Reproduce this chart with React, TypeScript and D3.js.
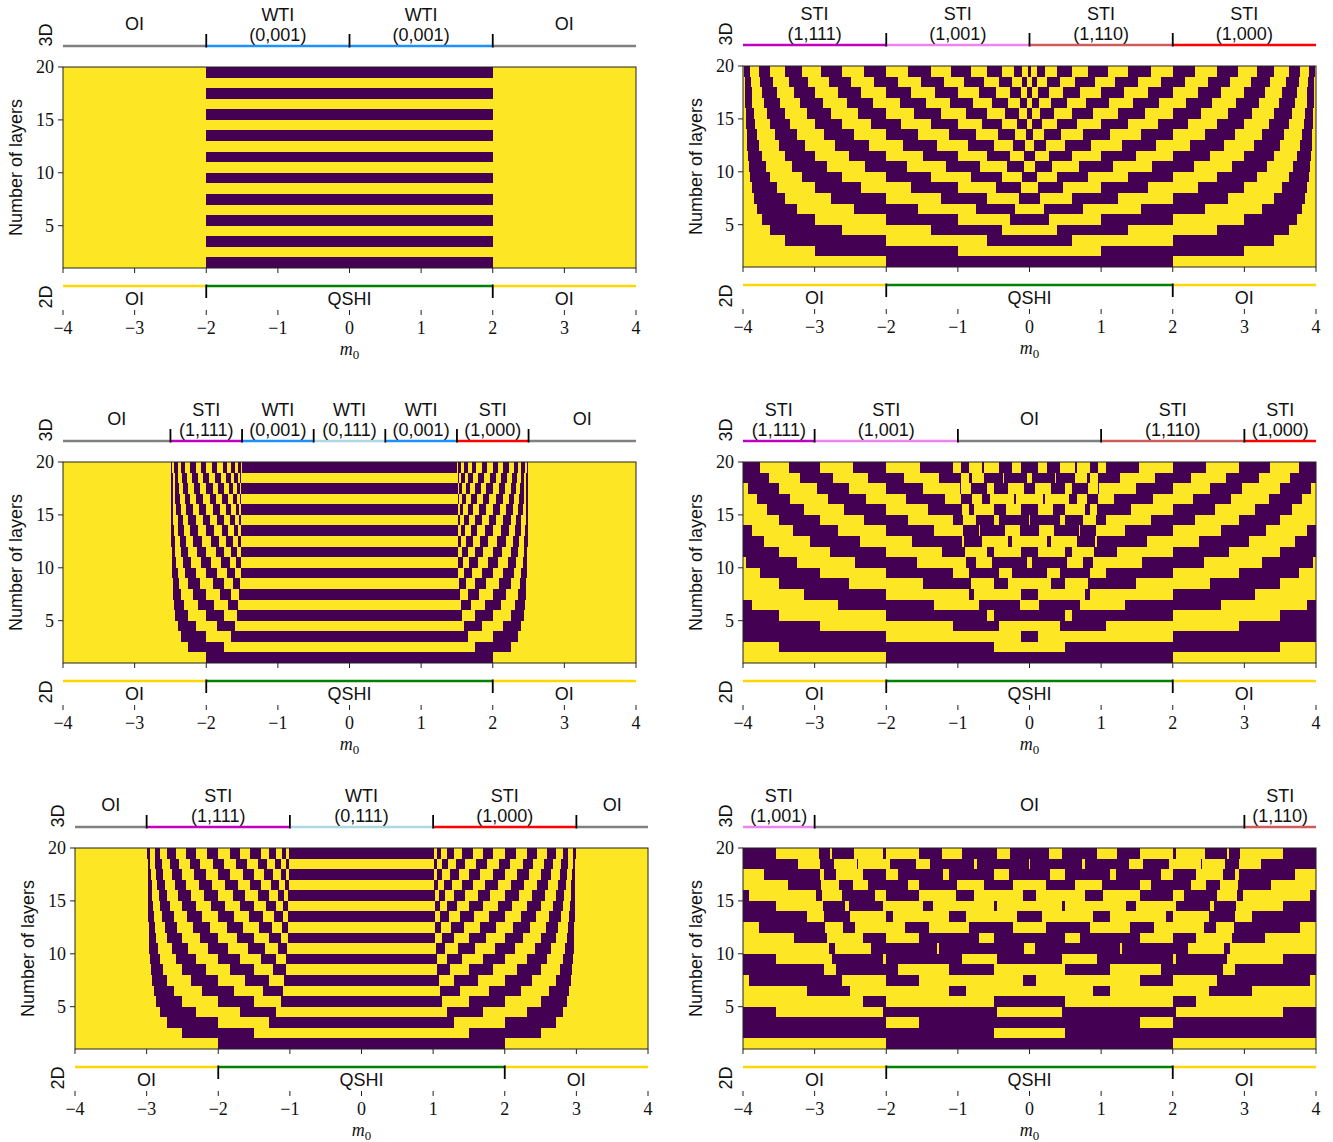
import React from 'react';
import * as d3 from 'd3';

const YEL = '#fde725';
const PUR = '#440154';
const SANS = "'Liberation Sans', Arial, sans-serif";
const SERIF = "'Liberation Serif', 'Times New Roman', serif";

// film thickness, bottom row first (row n covers n..n+1 on the axis)
const layers = [1, 2, 3, 4, 5, 6, 7, 8, 9, 10, 11, 12, 13, 14, 15, 16, 17, 18, 19];
const mTicks = [-4, -3, -2, -1, 0, 1, 2, 3, 4];
const layerTicks = [5, 10, 15, 20];

// each row: colour at m0 = -4 (1 = purple / nontrivial), then the m0 values where the colour flips
const p1Start = [0, 0, 0, 0, 0, 0, 0, 0, 0, 0, 0, 0, 0, 0, 0, 0, 0, 0, 0];
const p1Edges = [
  [-2, 2], [], [-2, 2], [], [-2, 2], [], [-2, 2], [], [-2, 2], [],
  [-2, 2], [], [-2, 2], [], [-2, 2], [], [-2, 2], [], [-2, 2],
];

const p2Start = [0, 0, 0, 0, 0, 0, 0, 0, 0, 0, 0, 0, 0, 0, 0, 0, 0, 0, 0];
const p2Edges = [
  [-2, 2],
  [-3, -1, 1, 3],
  [-3.41, -2, -0.59, 0.59, 2, 3.41],
  [-3.62, -2.62, -1.38, -0.38, 0.38, 1.38, 2.62, 3.62],
  [-3.73, -3, -2, -1, -0.27, 0.27, 1, 2, 3, 3.73],
  [-3.8, -3.25, -2.45, -1.55, -0.75, -0.2, 0.2, 0.75, 1.55, 2.45, 3.25, 3.8],
  [-3.85, -3.41, -2.77, -2, -1.23, -0.59, -0.15, 0.15, 0.59, 1.23, 2, 2.77, 3.41, 3.85],
  [-3.88, -3.53, -3, -2.35, -1.65, -1, -0.47, -0.12, 0.12, 0.47, 1, 1.65, 2.35, 3, 3.53, 3.88],
  [-3.9, -3.62, -3.18, -2.62, -2, -1.38, -0.82, -0.38, -0.1, 0.1, 0.38, 0.82, 1.38, 2, 2.62, 3.18, 3.62, 3.9],
  [-3.92, -3.68, -3.31, -2.83, -2.29, -1.71, -1.17, -0.69, -0.32, -0.08, 0.08, 0.32, 0.69, 1.17, 1.71, 2.29, 2.83, 3.31, 3.68, 3.92],
  [-3.93, -3.73, -3.41, -3, -2.52, -2, -1.48, -1, -0.59, -0.27, -0.07, 0.07, 0.27, 0.59, 1, 1.48, 2, 2.52, 3, 3.41, 3.73, 3.93],
  [-3.94, -3.77, -3.5, -3.14, -2.71, -2.24, -1.76, -1.29, -0.86, -0.5, -0.23, -0.06, 0.06, 0.23, 0.5, 0.86, 1.29, 1.76, 2.24, 2.71, 3.14, 3.5, 3.77, 3.94],
  [-3.95, -3.8, -3.56, -3.25, -2.87, -2.45, -2, -1.55, -1.13, -0.75, -0.44, -0.2, -0.05, 0.05, 0.2, 0.44, 0.75, 1.13, 1.55, 2, 2.45, 2.87, 3.25, 3.56, 3.8, 3.95],
  [-3.96, -3.83, -3.62, -3.34, -3, -2.62, -2.21, -1.79, -1.38, -1, -0.66, -0.38, -0.17, -0.04, 0.04, 0.17, 0.38, 0.66, 1, 1.38, 1.79, 2.21, 2.62, 3, 3.34, 3.62, 3.83, 3.96],
  [-3.96, -3.85, -3.66, -3.41, -3.11, -2.77, -2.39, -2, -1.61, -1.23, -0.89, -0.59, -0.34, -0.15, -0.04, 0.04, 0.15, 0.34, 0.59, 0.89, 1.23, 1.61, 2, 2.39, 2.77, 3.11, 3.41, 3.66, 3.85, 3.96],
  [-3.97, -3.87, -3.7, -3.48, -3.21, -2.89, -2.55, -2.19, -1.81, -1.45, -1.11, -0.79, -0.52, -0.3, -0.13, -0.03, 0.03, 0.13, 0.3, 0.52, 0.79, 1.11, 1.45, 1.81, 2.19, 2.55, 2.89, 3.21, 3.48, 3.7, 3.87, 3.97],
  [-3.97, -3.88, -3.73, -3.53, -3.29, -3, -2.68, -2.35, -2, -1.65, -1.32, -1, -0.71, -0.47, -0.27, -0.12, -0.03, 0.03, 0.12, 0.27, 0.47, 0.71, 1, 1.32, 1.65, 2, 2.35, 2.68, 3, 3.29, 3.53, 3.73, 3.88, 3.97],
  [-3.97, -3.89, -3.76, -3.58, -3.36, -3.09, -2.8, -2.49, -2.17, -1.83, -1.51, -1.2, -0.91, -0.64, -0.42, -0.24, -0.11, -0.03, 0.03, 0.11, 0.24, 0.42, 0.64, 0.91, 1.2, 1.51, 1.83, 2.17, 2.49, 2.8, 3.09, 3.36, 3.58, 3.76, 3.89, 3.97],
  [-3.98, -3.9, -3.78, -3.62, -3.41, -3.18, -2.91, -2.62, -2.31, -2, -1.69, -1.38, -1.09, -0.82, -0.59, -0.38, -0.22, -0.1, -0.02, 0.02, 0.1, 0.22, 0.38, 0.59, 0.82, 1.09, 1.38, 1.69, 2, 2.31, 2.62, 2.91, 3.18, 3.41, 3.62, 3.78, 3.9, 3.98],
];

const p3Start = [0, 0, 0, 0, 0, 0, 0, 0, 0, 0, 0, 0, 0, 0, 0, 0, 0, 0, 0];
const p3Edges = [
  [-2, 2],
  [-2.25, -1.75, 1.75, 2.25],
  [-2.35, -2, -1.65, 1.65, 2, 2.35],
  [-2.4, -2.15, -1.85, -1.6, 1.6, 1.85, 2.15, 2.4],
  [-2.43, -2.25, -2, -1.75, -1.57, 1.57, 1.75, 2, 2.25, 2.43],
  [-2.45, -2.31, -2.11, -1.89, -1.69, -1.55, 1.55, 1.69, 1.89, 2.11, 2.31, 2.45],
  [-2.46, -2.35, -2.19, -2, -1.81, -1.65, -1.54, 1.54, 1.65, 1.81, 2, 2.19, 2.35, 2.46],
  [-2.47, -2.38, -2.25, -2.09, -1.91, -1.75, -1.62, -1.53, 1.53, 1.62, 1.75, 1.91, 2.09, 2.25, 2.38, 2.47],
  [-2.48, -2.4, -2.29, -2.15, -2, -1.85, -1.71, -1.6, -1.52, 1.52, 1.6, 1.71, 1.85, 2, 2.15, 2.29, 2.4, 2.48],
  [-2.48, -2.42, -2.33, -2.21, -2.07, -1.93, -1.79, -1.67, -1.58, -1.52, 1.52, 1.58, 1.67, 1.79, 1.93, 2.07, 2.21, 2.33, 2.42, 2.48],
  [-2.48, -2.43, -2.35, -2.25, -2.13, -2, -1.87, -1.75, -1.65, -1.57, -1.52, 1.52, 1.57, 1.65, 1.75, 1.87, 2, 2.13, 2.25, 2.35, 2.43, 2.48],
  [-2.49, -2.44, -2.37, -2.28, -2.18, -2.06, -1.94, -1.82, -1.72, -1.63, -1.56, -1.51, 1.51, 1.56, 1.63, 1.72, 1.82, 1.94, 2.06, 2.18, 2.28, 2.37, 2.44, 2.49],
  [-2.49, -2.45, -2.39, -2.31, -2.22, -2.11, -2, -1.89, -1.78, -1.69, -1.61, -1.55, -1.51, 1.51, 1.55, 1.61, 1.69, 1.78, 1.89, 2, 2.11, 2.22, 2.31, 2.39, 2.45, 2.49],
  [-2.49, -2.46, -2.4, -2.33, -2.25, -2.15, -2.05, -1.95, -1.85, -1.75, -1.67, -1.6, -1.54, -1.51, 1.51, 1.54, 1.6, 1.67, 1.75, 1.85, 1.95, 2.05, 2.15, 2.25, 2.33, 2.4, 2.46, 2.49],
  [-2.49, -2.46, -2.42, -2.35, -2.28, -2.19, -2.1, -2, -1.9, -1.81, -1.72, -1.65, -1.58, -1.54, -1.51, 1.51, 1.54, 1.58, 1.65, 1.72, 1.81, 1.9, 2, 2.1, 2.19, 2.28, 2.35, 2.42, 2.46, 2.49],
  [-2.49, -2.47, -2.43, -2.37, -2.3, -2.22, -2.14, -2.05, -1.95, -1.86, -1.78, -1.7, -1.63, -1.57, -1.53, -1.51, 1.51, 1.53, 1.57, 1.63, 1.7, 1.78, 1.86, 1.95, 2.05, 2.14, 2.22, 2.3, 2.37, 2.43, 2.47, 2.49],
  [-2.49, -2.47, -2.43, -2.38, -2.32, -2.25, -2.17, -2.09, -2, -1.91, -1.83, -1.75, -1.68, -1.62, -1.57, -1.53, -1.51, 1.51, 1.53, 1.57, 1.62, 1.68, 1.75, 1.83, 1.91, 2, 2.09, 2.17, 2.25, 2.32, 2.38, 2.43, 2.47, 2.49],
  [-2.49, -2.47, -2.44, -2.39, -2.34, -2.27, -2.2, -2.12, -2.04, -1.96, -1.88, -1.8, -1.73, -1.66, -1.61, -1.56, -1.53, -1.51, 1.51, 1.53, 1.56, 1.61, 1.66, 1.73, 1.8, 1.88, 1.96, 2.04, 2.12, 2.2, 2.27, 2.34, 2.39, 2.44, 2.47, 2.49],
  [-2.494, -2.48, -2.45, -2.4, -2.35, -2.29, -2.23, -2.15, -2.08, -2, -1.92, -1.85, -1.77, -1.71, -1.65, -1.6, -1.55, -1.52, -1.506, 1.506, 1.52, 1.55, 1.6, 1.65, 1.71, 1.77, 1.85, 1.92, 2, 2.08, 2.15, 2.23, 2.29, 2.35, 2.4, 2.45, 2.48, 2.494],
];

const p4Start = [0, 0, 1, 1, 1, 1, 0, 0, 0, 0, 1, 1, 1, 0, 0, 0, 0, 1, 1];
const p4Edges = [
  [-2, 2],
  [-3.5, -0.5, 0.5, 3.5],
  [-2, -0.12, 0.12, 2],
  [-2.93, -1.07, -0.43, 0.43, 1.07, 2.93],
  [-3.5, -2, -0.6, -0.5, 0.5, 0.6, 2, 3.5],
  [-3.87, -2.67, -1.33, -0.7, -0.13, 0.13, 0.7, 1.33, 2.67, 3.87],
  [-3.15, -2, -0.85, -0.77, -0.12, 0.12, 0.77, 0.85, 2, 3.15],
  [-3.5, -2.52, -1.48, -0.82, -0.5, -0.3, 0.3, 0.5, 0.82, 1.48, 2.52, 3.5],
  [-3.76, -2.93, -2, -1.07, -0.85, -0.43, -0.24, 0.24, 0.43, 0.85, 1.07, 2, 2.93, 3.76],
  [-3.965, -3.25, -2.43, -1.57, -0.88, -0.75, -0.52, -0.035, 0.035, 0.52, 0.75, 0.88, 1.57, 2.43, 3.25, 3.965],
  [-3.5, -2.78, -2, -1.22, -0.9, -0.6, -0.5, -0.12, 0.12, 0.5, 0.6, 0.9, 1.22, 2, 2.78, 3.5],
  [-3.7, -3.06, -2.36, -1.64, -0.94, -0.91, -0.66, -0.3, -0.25, 0.25, 0.3, 0.66, 0.91, 0.94, 1.64, 2.36, 3.06, 3.7],
  [-3.87, -3.3, -2.67, -2, -1.33, -0.925, -0.703, -0.698, -0.345, -0.13, 0.13, 0.345, 0.698, 0.703, 0.925, 1.33, 2, 2.67, 3.3, 3.87],
  [-3.5, -2.93, -2.31, -1.69, -1.07, -0.93, -0.74, -0.5, -0.43, -0.007, 0.007, 0.43, 0.5, 0.74, 0.93, 1.07, 1.69, 2.31, 2.93, 3.5],
  [-3.67, -3.15, -2.585, -2, -1.415, -0.94, -0.85, -0.77, -0.49, -0.33, -0.12, 0.12, 0.33, 0.49, 0.77, 0.85, 0.94, 1.415, 2, 2.585, 3.15, 3.67],
  [-3.81, -3.34, -2.82, -2.28, -1.72, -1.18, -0.95, -0.8, -0.66, -0.55, -0.22, -0.19, 0.19, 0.22, 0.55, 0.66, 0.8, 0.95, 1.18, 1.72, 2.28, 2.82, 3.34, 3.81],
  [-3.93, -3.5, -2.97, -2.52, -2, -1.48, -0.974, -0.954, -0.82, -0.6, -0.5, -0.3, -0.07, 0.07, 0.3, 0.5, 0.6, 0.82, 0.954, 0.974, 1.48, 2, 2.52, 2.97, 3.5, 3.93],
  [-3.64, -3.205, -2.74, -2.25, -1.75, -1.26, -0.96, -0.84, -0.8, -0.64, -0.37, -0.36, -0.03, 0.03, 0.36, 0.37, 0.64, 0.8, 0.84, 0.96, 1.26, 1.75, 2.25, 2.74, 3.205, 3.64],
  [-3.76, -3.36, -2.93, -2.47, -2, -1.53, -1.07, -0.96, -0.85, -0.67, -0.64, -0.43, -0.24, -0.12, 0.12, 0.24, 0.43, 0.64, 0.67, 0.85, 0.96, 1.07, 1.53, 2, 2.47, 2.93, 3.36, 3.76],
];

const p5Start = [0, 0, 0, 0, 0, 0, 0, 0, 0, 0, 0, 0, 0, 0, 0, 0, 0, 0, 0];
const p5Edges = [
  [-2, 2],
  [-2.5, -1.5, 1.5, 2.5],
  [-2.71, -2, -1.29, 1.29, 2, 2.71],
  [-2.81, -2.31, -1.69, -1.19, 1.19, 1.69, 2.31, 2.81],
  [-2.87, -2.5, -2, -1.5, -1.13, 1.13, 1.5, 2, 2.5, 2.87],
  [-2.9, -2.62, -2.22, -1.78, -1.38, -1.1, 1.1, 1.38, 1.78, 2.22, 2.62, 2.9],
  [-2.92, -2.71, -2.38, -2, -1.62, -1.29, -1.08, 1.08, 1.29, 1.62, 2, 2.38, 2.71, 2.92],
  [-2.94, -2.77, -2.5, -2.17, -1.83, -1.5, -1.23, -1.06, 1.06, 1.23, 1.5, 1.83, 2.17, 2.5, 2.77, 2.94],
  [-2.95, -2.81, -2.59, -2.31, -2, -1.69, -1.41, -1.19, -1.05, 1.05, 1.19, 1.41, 1.69, 2, 2.31, 2.59, 2.81, 2.95],
  [-2.96, -2.84, -2.65, -2.42, -2.14, -1.86, -1.58, -1.35, -1.16, -1.04, 1.04, 1.16, 1.35, 1.58, 1.86, 2.14, 2.42, 2.65, 2.84, 2.96],
  [-2.97, -2.87, -2.71, -2.5, -2.26, -2, -1.74, -1.5, -1.29, -1.13, -1.03, 1.03, 1.13, 1.29, 1.5, 1.74, 2, 2.26, 2.5, 2.71, 2.87, 2.97],
  [-2.97, -2.89, -2.75, -2.57, -2.35, -2.12, -1.88, -1.65, -1.43, -1.25, -1.11, -1.03, 1.03, 1.11, 1.25, 1.43, 1.65, 1.88, 2.12, 2.35, 2.57, 2.75, 2.89, 2.97],
  [-2.975, -2.9, -2.78, -2.62, -2.43, -2.22, -2, -1.78, -1.57, -1.38, -1.22, -1.1, -1.025, 1.025, 1.1, 1.22, 1.38, 1.57, 1.78, 2, 2.22, 2.43, 2.62, 2.78, 2.9, 2.975],
  [-2.98, -2.91, -2.81, -2.67, -2.5, -2.31, -2.1, -1.9, -1.69, -1.5, -1.33, -1.19, -1.09, -1.02, 1.02, 1.09, 1.19, 1.33, 1.5, 1.69, 1.9, 2.1, 2.31, 2.5, 2.67, 2.81, 2.91, 2.98],
  [-2.98, -2.92, -2.83, -2.71, -2.56, -2.38, -2.2, -2, -1.8, -1.62, -1.44, -1.29, -1.17, -1.08, -1.02, 1.02, 1.08, 1.17, 1.29, 1.44, 1.62, 1.8, 2, 2.2, 2.38, 2.56, 2.71, 2.83, 2.92, 2.98],
  [-2.983, -2.93, -2.85, -2.74, -2.6, -2.45, -2.27, -2.09, -1.91, -1.73, -1.55, -1.4, -1.26, -1.15, -1.07, -1.017, 1.017, 1.07, 1.15, 1.26, 1.4, 1.55, 1.73, 1.91, 2.09, 2.27, 2.45, 2.6, 2.74, 2.85, 2.93, 2.983],
  [-2.985, -2.94, -2.87, -2.77, -2.64, -2.5, -2.34, -2.17, -2, -1.83, -1.66, -1.5, -1.36, -1.23, -1.13, -1.06, -1.015, 1.015, 1.06, 1.13, 1.23, 1.36, 1.5, 1.66, 1.83, 2, 2.17, 2.34, 2.5, 2.64, 2.77, 2.87, 2.94, 2.985],
  [-2.986, -2.95, -2.88, -2.79, -2.68, -2.55, -2.4, -2.25, -2.08, -1.92, -1.75, -1.6, -1.45, -1.32, -1.21, -1.12, -1.05, -1.014, 1.014, 1.05, 1.12, 1.21, 1.32, 1.45, 1.6, 1.75, 1.92, 2.08, 2.25, 2.4, 2.55, 2.68, 2.79, 2.88, 2.95, 2.986],
  [-2.988, -2.95, -2.89, -2.81, -2.71, -2.59, -2.45, -2.31, -2.16, -2, -1.84, -1.69, -1.55, -1.41, -1.29, -1.19, -1.11, -1.05, -1.012, 1.012, 1.05, 1.11, 1.19, 1.29, 1.41, 1.55, 1.69, 1.84, 2, 2.16, 2.31, 2.45, 2.59, 2.71, 2.81, 2.89, 2.95, 2.988],
];

const p6Start = [0, 1, 1, 1, 0, 0, 0, 1, 1, 0, 0, 0, 1, 1, 1, 0, 0, 1, 1];
const p6Edges = [
  [-2, 2],
  [-0.5, 0.5],
  [-2, -1.54, 1.54, 2],
  [-3.545, -2.045, -0.455, 0.455, 2.045, 3.545],
  [-2.33, -2, -0.5, 0.5, 2, 2.33],
  [-3.11, -2.505, -1.12, -0.89, 0.89, 1.12, 2.505, 3.11],
  [-3.91, -2.62, -2, -1.536, -0.087, 0.087, 1.536, 2, 2.62, 3.91],
  [-2.87, -2.7, -1.83, -1.13, -0.5, 0.5, 1.13, 1.83, 2.7, 2.87],
  [-3.545, -2.76, -2.045, -2, -0.94, -0.455, 0.455, 0.94, 2, 2.045, 2.76, 3.545],
  [-2.8, -2.71, -2.21, -1.29, -1.27, -0.077, 0.077, 1.27, 1.29, 2.21, 2.71, 2.8],
  [-3.29, -2.83, -2.33, -2, -1.54, -0.71, -0.5, 0.5, 0.71, 1.54, 2, 2.33, 2.83, 3.29],
  [-3.77, -2.85, -2.6, -2.43, -1.74, -1.4, -0.84, -0.23, 0.23, 0.84, 1.4, 1.74, 2.43, 2.6, 2.85, 3.77],
  [-3.11, -2.87, -2.505, -2, -1.91, -1.12, -0.89, -0.17, 0.17, 0.89, 1.12, 1.91, 2, 2.505, 2.87, 3.11],
  [-3.545, -2.89, -2.57, -2.52, -2.045, -1.48, -1.35, -0.5, -0.455, 0.455, 0.5, 1.35, 1.48, 2.045, 2.52, 2.57, 2.89, 3.545],
  [-3.91, -2.98, -2.9, -2.62, -2.16, -2, -1.54, -1.02, -0.78, -0.09, 0.09, 0.78, 1.02, 1.54, 2, 2.16, 2.62, 2.9, 2.98, 3.91],
  [-3.37, -2.915, -2.66, -2.46, -2.25, -1.695, -1.54, -1.01, -0.63, -0.23, 0.23, 0.63, 1.01, 1.54, 1.695, 2.25, 2.46, 2.66, 2.915, 3.37],
  [-3.71, -2.92, -2.87, -2.7, -2.33, -2, -1.83, -1.21, -1.13, -0.5, -0.29, 0.29, 0.5, 1.13, 1.21, 1.83, 2, 2.33, 2.7, 2.87, 2.92, 3.71],
  [-3.23, -2.93, -2.73, -2.413, -2.398, -1.95, -1.59, -1.39, -0.77, -0.73, -0.009, 0.009, 0.73, 0.77, 1.39, 1.59, 1.95, 2.398, 2.413, 2.73, 2.93, 3.23],
  [-3.545, -2.94, -2.78, -2.76, -2.455, -2.045, -2, -1.54, -1.22, -0.94, -0.455, -0.27, 0.27, 0.455, 0.94, 1.22, 1.54, 2, 2.045, 2.455, 2.76, 2.78, 2.94, 3.545],
];

// 3D bulk phases along m0 for each panel
const phases1 = [
  { from: -4, to: -2, phase: 'OI' },
  { from: -2, to: 0, phase: 'WTI (0,001)' },
  { from: 0, to: 2, phase: 'WTI (0,001)' },
  { from: 2, to: 4, phase: 'OI' },
];
const phases2 = [
  { from: -4, to: -2, phase: 'STI (1,111)' },
  { from: -2, to: 0, phase: 'STI (1,001)' },
  { from: 0, to: 2, phase: 'STI (1,110)' },
  { from: 2, to: 4, phase: 'STI (1,000)' },
];
const phases3 = [
  { from: -4, to: -2.5, phase: 'OI' },
  { from: -2.5, to: -1.5, phase: 'STI (1,111)' },
  { from: -1.5, to: -0.5, phase: 'WTI (0,001)' },
  { from: -0.5, to: 0.5, phase: 'WTI (0,111)' },
  { from: 0.5, to: 1.5, phase: 'WTI (0,001)' },
  { from: 1.5, to: 2.5, phase: 'STI (1,000)' },
  { from: 2.5, to: 4, phase: 'OI' },
];
const phases4 = [
  { from: -4, to: -3, phase: 'STI (1,111)' },
  { from: -3, to: -1, phase: 'STI (1,001)' },
  { from: -1, to: 1, phase: 'OI' },
  { from: 1, to: 3, phase: 'STI (1,110)' },
  { from: 3, to: 4, phase: 'STI (1,000)' },
];
const phases5 = [
  { from: -4, to: -3, phase: 'OI' },
  { from: -3, to: -1, phase: 'STI (1,111)' },
  { from: -1, to: 1, phase: 'WTI (0,111)' },
  { from: 1, to: 3, phase: 'STI (1,000)' },
  { from: 3, to: 4, phase: 'OI' },
];
const phases6 = [
  { from: -4, to: -3, phase: 'STI (1,001)' },
  { from: -3, to: 3, phase: 'OI' },
  { from: 3, to: 4, phase: 'STI (1,110)' },
];
// single-layer (2D) phases, same in every panel
const phases2D = [
  { from: -4, to: -2, phase: 'OI' },
  { from: -2, to: 2, phase: 'QSHI' },
  { from: 2, to: 4, phase: 'OI' },
];

const color3D: Record<string, string> = {
  'OI': '#808080',
  'WTI (0,001)': '#1e90ff',
  'WTI (0,111)': '#add8e6',
  'STI (1,111)': '#c000c0',
  'STI (1,001)': '#ee82ee',
  'STI (1,110)': '#cd5c5c',
  'STI (1,000)': '#ff0000',
};
const color2D: Record<string, string> = { 'OI': '#ffd700', 'QSHI': '#008000' };

const W = 573;
const H = 201;

type Phase = { from: number; to: number; phase: string };

function minus(v: number) {
  return v < 0 ? '\u2212' + Math.abs(v) : String(v);
}

function Panel({ left, top, start, edges, phases }: { left: number; top: number; start: number[]; edges: number[][]; phases: Phase[] }) {
  const x = d3.scaleLinear().domain([-4, 4]).range([left, left + W]);
  const y = d3.scaleLinear().domain([1, 20]).range([top + H, top]);
  const B = top + H;

  const cells: React.ReactNode[] = [];
  layers.forEach((n, i) => {
    const b = [-4, ...edges[i], 4];
    let s = start[i];
    for (let k = 0; k < b.length - 1; k++) {
      if (s === 1) {
        cells.push(
          <rect key={`${n}-${k}`} x={x(b[k])} y={y(n + 1)} width={Math.max(1, x(b[k + 1]) - x(b[k]))}
            height={y(n) - y(n + 1)} fill={PUR} />
        );
      }
      s = 1 - s;
    }
  });

  const lineY = top - 21;
  const line2D = B + 18;

  return (
    <g>
      {/* 3D header */}
      {phases.map((p, i) => (
        <line key={'l' + i} x1={x(p.from)} x2={x(p.to)} y1={lineY} y2={lineY} stroke={color3D[p.phase]} strokeWidth={2.5} />
      ))}
      {phases.slice(1).map((p, i) => (
        <line key={'t' + i} x1={x(p.from)} x2={x(p.from)} y1={lineY - 12} y2={lineY + 1.5} stroke="#000" strokeWidth={1.8} />
      ))}
      {phases.map((p, i) => {
        const parts = p.phase.split(' ');
        const cx = x((p.from + p.to) / 2);
        return parts.length > 1 ? (
          <g key={'n' + i} fontFamily={SANS} fontSize={18} textAnchor="middle" fill="#111">
            <text x={cx} y={top - 46}>{parts[0]}</text>
            <text x={cx} y={top - 26}>{parts[1]}</text>
          </g>
        ) : (
          <text key={'n' + i} x={cx} y={top - 37} fontFamily={SANS} fontSize={18} textAnchor="middle" fill="#111">{parts[0]}</text>
        );
      })}
      <text transform={`translate(${left - 17},${top - 32}) rotate(-90)`} fontFamily={SANS} fontSize={18}
        textAnchor="middle" dominantBaseline="central" fill="#111">3D</text>

      {/* heatmap */}
      <rect x={left} y={top} width={W} height={H} fill={YEL} />
      <g shapeRendering="crispEdges">{cells}</g>
      <rect x={left} y={top} width={W} height={H} fill="none" stroke="#222" strokeWidth={1} />
      {layerTicks.map((t) => (
        <g key={'y' + t}>
          <line x1={left - 5} x2={left} y1={y(t)} y2={y(t)} stroke="#222" strokeWidth={1} />
          <text x={left - 9} y={y(t)} dy="0.35em" textAnchor="end" fontFamily={SERIF} fontSize={18} fill="#111">{t}</text>
        </g>
      ))}
      {mTicks.map((t) => (
        <line key={'xb' + t} x1={x(t)} x2={x(t)} y1={B} y2={B + 5} stroke="#222" strokeWidth={1} />
      ))}
      <text transform={`translate(${left - 47},${top + H / 2}) rotate(-90)`} fontFamily={SANS} fontSize={18}
        textAnchor="middle" dominantBaseline="central" fill="#111">Number of layers</text>

      {/* 2D footer */}
      {phases2D.map((p, i) => (
        <line key={'f' + i} x1={x(p.from)} x2={x(p.to)} y1={line2D} y2={line2D} stroke={color2D[p.phase]} strokeWidth={2.5} />
      ))}
      {phases2D.slice(1).map((p, i) => (
        <line key={'ft' + i} x1={x(p.from)} x2={x(p.from)} y1={line2D - 1.5} y2={line2D + 12} stroke="#000" strokeWidth={1.8} />
      ))}
      {phases2D.map((p, i) => (
        <text key={'fn' + i} x={x((p.from + p.to) / 2)} y={B + 37} fontFamily={SANS} fontSize={18} textAnchor="middle" fill="#111">{p.phase}</text>
      ))}
      <text transform={`translate(${left - 17},${B + 29}) rotate(-90)`} fontFamily={SANS} fontSize={18}
        textAnchor="middle" dominantBaseline="central" fill="#111">2D</text>
      {mTicks.map((t) => (
        <g key={'x' + t}>
          <line x1={x(t)} x2={x(t)} y1={B + 42} y2={B + 47} stroke="#222" strokeWidth={1} />
          <text x={x(t)} y={B + 66} textAnchor="middle" fontFamily={SERIF} fontSize={18} fill="#111">{minus(t)}</text>
        </g>
      ))}
      <text x={x(0)} y={B + 87} textAnchor="middle" fontFamily={SERIF} fontSize={18} fill="#111">
        <tspan fontStyle="italic">m</tspan>
        <tspan fontSize={13} dy={4}>0</tspan>
      </text>
    </g>
  );
}

const panels = [
  { left: 63, top: 67, start: p1Start, edges: p1Edges, phases: phases1 },
  { left: 743, top: 66, start: p2Start, edges: p2Edges, phases: phases2 },
  { left: 63, top: 462, start: p3Start, edges: p3Edges, phases: phases3 },
  { left: 743, top: 462, start: p4Start, edges: p4Edges, phases: phases4 },
  { left: 75, top: 848, start: p5Start, edges: p5Edges, phases: phases5 },
  { left: 743, top: 848, start: p6Start, edges: p6Edges, phases: phases6 },
];

export default function App() {
  return (
    <svg width={1333} height={1142} style={{ position: 'absolute', left: 0, top: 0, background: '#fff' }}>
      {panels.map((p, i) => (
        <Panel key={i} {...p} />
      ))}
    </svg>
  );
}
